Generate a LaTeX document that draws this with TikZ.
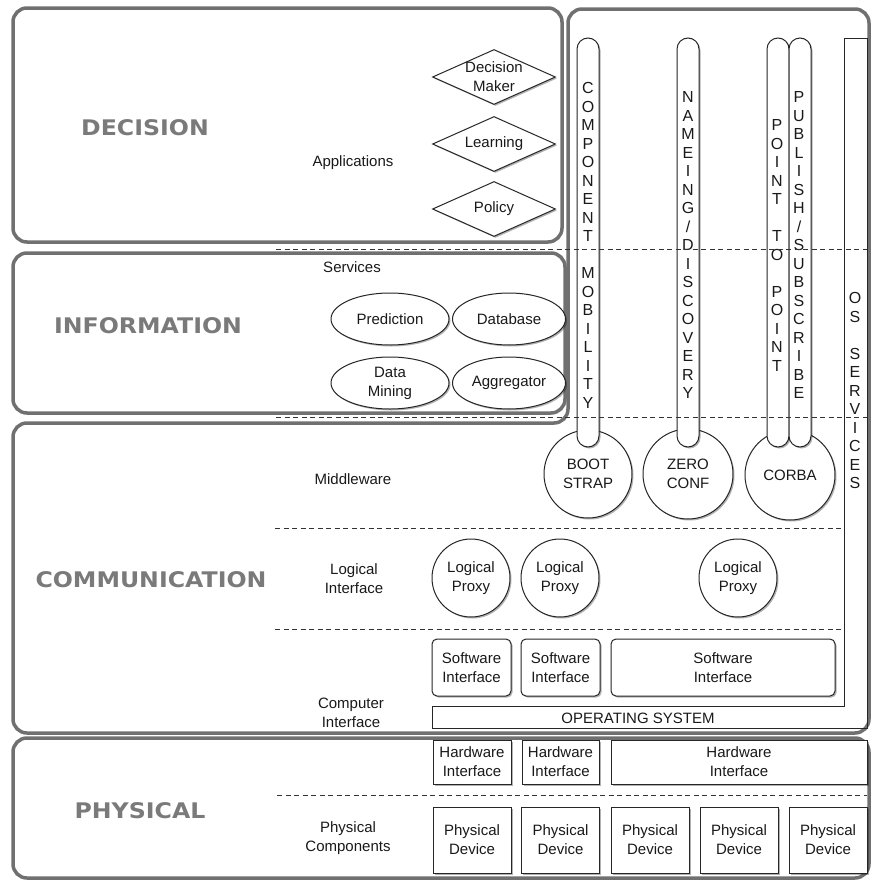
\documentclass[tikz,border=0pt]{standalone}
\usepackage{fontspec}
\setmainfont{Liberation Sans}
\newfontfamily\bigfont{DejaVu Sans}[FakeStretch=1.1]
\usetikzlibrary{shapes.geometric,shadows}
\definecolor{outergray}{RGB}{112,112,112}
\definecolor{labelgray}{RGB}{122,122,122}
\tikzset{
  outer/.style={draw=outergray, line width=3.5pt, rounded corners=14pt},
  biglabel/.style={text=labelgray, font=\bigfont\bfseries\fontsize{21.5}{24}\selectfont, inner sep=0pt},
  lbl/.style={font=\fontsize{15}{19}\selectfont, align=center, inner sep=0pt, text=black!90},
  sep/.style={draw=black!80, line width=0.8pt, dash pattern=on 5pt off 3.5pt},
  shad/.style={drop shadow={shadow xshift=1.5pt, shadow yshift=-1.5pt, opacity=0.3, fill=black}},
  item/.style={draw=black!85, line width=1pt, fill=white, lbl, shad},
  dia/.style={item, diamond, minimum width=123pt, minimum height=55pt},
  ell/.style={item, ellipse, minimum height=52pt},
  pill/.style={draw=black!85, line width=1pt, fill=white, rounded corners=11pt, minimum width=22pt, minimum height=409pt, inner sep=0pt, shad},
  swbox/.style={item, rectangle, rounded corners=5pt, minimum height=57pt},
  hwbox/.style={item, rectangle, minimum height=44pt},
  pdbox/.style={item, rectangle, minimum height=66pt, minimum width=78pt},
  vlet/.style={font=\fontsize{16}{16}\selectfont, inner sep=0pt, text height=11.5pt, text depth=0pt, text=black!90},
  osline/.style={draw=black!85, line width=1pt}
}
\newcommand{\vletters}[4]{%
  \foreach \ch [count=\i from 0] in {#4} {\node[vlet] (#3\i) at (#1, #2+18.5*\i) {\ch};}}
\begin{document}
\begin{tikzpicture}[x=1pt,y=-1pt]
\useasboundingbox (0,0) rectangle (871,881);
% outer layer boxes
\draw[outer] (13,8) rectangle (562,242);
\draw[outer] (13,253) rectangle (565,413);
\draw[outer] (300,423) -- (568,423) -- (568,9) -- (869,9) -- (869,733) -- (13,733) -- (13,423) -- cycle;
\draw[outer] (13,738) rectangle (869,878);
% big labels
\node[biglabel] (dec) at (145,128) {DECISION};
\node[biglabel] (inf) at (148,326) {INFORMATION};
\node[biglabel] (com) at (151,580) {COMMUNICATION};
\node[biglabel] (phy) at (140,811) {PHYSICAL};
% layer labels
\node[lbl] (app) at (353,163) {Applications};
\node[lbl] (serv) at (352,267) {Services};
\node[lbl] (mid) at (353,479) {Middleware};
\node[lbl] (logi) at (354,579) {Logical\\Interface};
\node[lbl] (comp) at (351,713) {Computer\\Interface};
\node[lbl] (phc) at (348,838) {Physical\\Components};
% decision diamonds
\node[dia] (dm) at (494,77) {};
\node[lbl] (dmt) at (dm) {Decision\\Maker};
\node[dia] (le) at (494,144) {};
\node[lbl] (let) at (le) {Learning};
\node[dia] (po) at (494,209) {};
\node[lbl] (pot) at (po) {Policy};
% information ellipses
\node[ell, minimum width=118pt] (pred) at (390,319) {Prediction};
\node[ell, minimum width=113pt] (db) at (509,319) {Database};
\node[ell, minimum width=118pt] (dmin) at (390,383) {Data\\Mining};
\node[ell, minimum width=113pt] (agg) at (509,383) {Aggregator};
% middleware circles
\node[item, circle, minimum size=88pt] (boot) at (588,474) {BOOT\\STRAP};
\node[item, circle, minimum size=90pt] (zero) at (688,474) {ZERO\\CONF};
\node[item, circle, minimum size=90pt] (corba) at (790,475) {CORBA};
% pills
\node[pill] (cmp) at (588,242.5) {};
\node[pill] (nmp) at (688,242.5) {};
\node[pill] (ptp) at (778,242.5) {};
\node[pill] (psp) at (800,242.5) {};
\vletters{588}{88}{cm}{C,O,M,P,O,N,E,N,T,{},M,O,B,I,L,I,T,Y}
\vletters{688}{97}{nd}{N,A,M,E,I,N,G,/,D,I,S,C,O,V,E,R,Y}
\vletters{777}{125}{pp}{P,O,I,N,T,{},T,O,{},P,O,I,N,T}
\vletters{799}{97}{ps}{P,U,B,L,I,S,H,/,S,U,B,S,C,R,I,B,E}
% OS services + operating system
\draw[osline] (844,38) -- (867,38) -- (867,728) -- (432,728) -- (432,706) -- (844,706) -- cycle;
\vletters{855}{298}{os}{O,S,{},S,E,R,V,I,C,E,S}
\node[lbl] (ost) at (638,718) {OPERATING SYSTEM};
% logical proxies
\node[item, circle, minimum size=78pt] (lp1) at (471,578) {Logical\\Proxy};
\node[item, circle, minimum size=78pt] (lp2) at (560,578) {Logical\\Proxy};
\node[item, circle, minimum size=78pt] (lp3) at (738,578) {Logical\\Proxy};
% software interfaces
\node[swbox, minimum width=79pt] (sw1) at (471.5,667.5) {Software\\Interface};
\node[swbox, minimum width=79pt] (sw2) at (560.5,667.5) {Software\\Interface};
\node[swbox, minimum width=224pt] (sw3) at (723,667.5) {Software\\Interface};
% hardware interfaces
\node[hwbox, minimum width=78pt] (hw1) at (472,762) {Hardware\\Interface};
\node[hwbox, minimum width=77pt] (hw2) at (560.5,762) {Hardware\\Interface};
\node[hwbox, minimum width=256pt] (hw3) at (739,762) {Hardware\\Interface};
% physical devices
\node[pdbox] (pd1) at (472,840) {Physical\\Device};
\node[pdbox] (pd2) at (560.5,840) {Physical\\Device};
\node[pdbox] (pd3) at (650,840) {Physical\\Device};
\node[pdbox] (pd4) at (739,840) {Physical\\Device};
\node[pdbox] (pd5) at (828,840) {Physical\\Device};
% dashed separators
\draw[sep] (276,249) -- (867,249);
\draw[sep] (276,417) -- (867,417);
\draw[sep] (275,528) -- (843,528);
\draw[sep] (275,629) -- (843,629);
\draw[sep] (277,795) -- (867,795);
\end{tikzpicture}
\end{document}
